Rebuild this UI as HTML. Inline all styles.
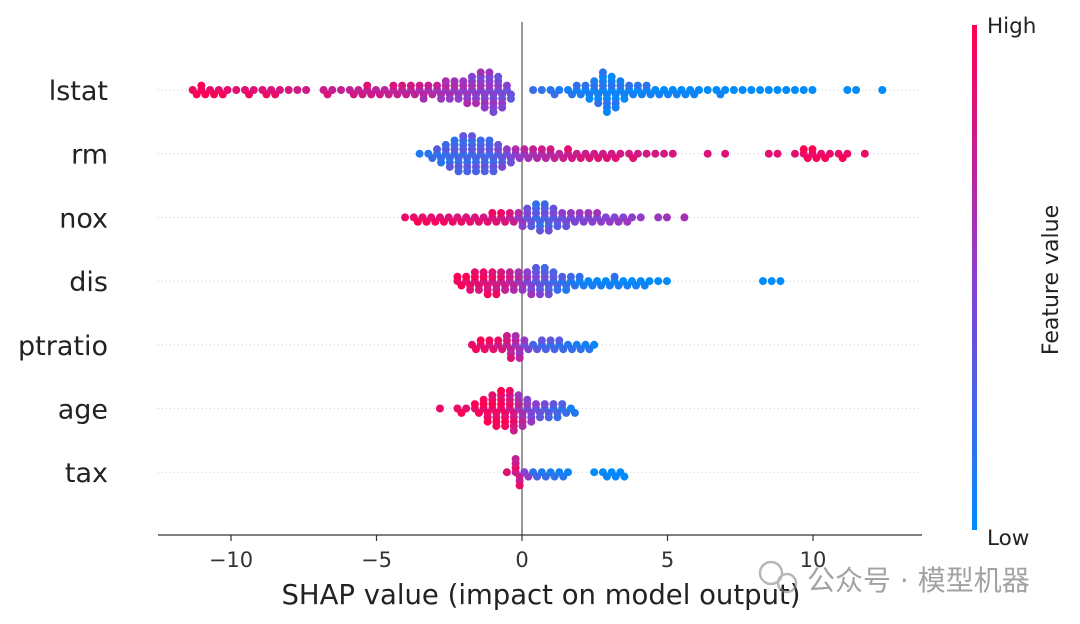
<!DOCTYPE html>
<html><head><meta charset="utf-8"><style>
html,body{margin:0;padding:0;background:#fff;}
svg{display:block;font-family:"DejaVu Sans","Liberation Sans","Noto Sans CJK SC",sans-serif;}
</style></head><body>
<svg id="chart" width="1080" height="624" viewBox="0 0 1080 624" xmlns="http://www.w3.org/2000/svg">
<defs><linearGradient id="cb" x1="0" y1="1" x2="0" y2="0">
<stop offset="0" stop-color="#008bfb"/><stop offset="0.5" stop-color="#8a3fd0"/><stop offset="1" stop-color="#ff0052"/></linearGradient></defs>
<g id="grid"></g>
<line x1="522" y1="22" x2="522" y2="535" stroke="#999" stroke-width="2"/>
<g id="dots"></g>
<g id="ylabels"></g>
<line x1="158" y1="535" x2="922" y2="535" stroke="#333" stroke-width="1.2"/>
<g id="xticks"></g>
<text x="541" y="604" font-size="27.5" text-anchor="middle" fill="#222">SHAP value (impact on model output)</text>
<rect x="972" y="25" width="5" height="505" fill="url(#cb)"/>
<text x="987" y="33" font-size="21.5" fill="#222">High</text>
<text x="987" y="545" font-size="21.5" fill="#222">Low</text>
<text x="1058" y="280" font-size="22" fill="#222" text-anchor="middle" transform="rotate(-90 1058 280)">Feature value</text>
<g opacity="0.6">
<circle cx="771" cy="573" r="11" fill="none" stroke="#888" stroke-width="2.5"/>
<circle cx="787" cy="583" r="9" fill="none" stroke="#888" stroke-width="2.5"/>
<text x="807" y="590" font-size="28" fill="#666">公众号 · 模型机器</text>
</g>
</svg>
<script>
const features = ["lstat","rm","nox","dis","ptratio","age","tax"];
const binStart = [-11.4,-3.6,-4.1,-2.3,-1.8,-2.9,-0.6];
const binStep = 0.3;
const countsLstat = [2,3,2,2,1,1,2,1, 2,2,1,1,1, 1,0,2,1,1, 2,2,3,2,2, 3,3,3,4,3, 4,5,5,6,7, 9,10,8,4, 0,0, 1,1,2,1, 2,3,4,6, 10,8,5,3, 3,3,2,2, 2,2,2,1, 1,2,1,1, 1,1,1,1, 1,1,1,1, 1,0,0,0, 1,1,0,0, 1];
const countsRm = [1,2,4,6, 8,9,9,8, 8,6,4,3, 3,3,3,3, 2,3,2,2, 2,2,2,1, 2,1,1,1, 1,1,0,0, 0,1,0,1, 0,0,0,0, 1,1,0,1, 3,3,2,1, 2,1,0,1];
const countsNox = [1,2,2,2, 2,2,2,2, 2,2,3,3, 3,4,5,7, 7,5,4,3, 3,3,3,2, 2,2,1,1, 0,1,1,0, 1];
const countsDis = [3,4,5,6, 6,5,5,5, 6,7,7,5, 4,3,3,2, 2,2,3,2, 2,2,1,1, 1,0,0,0, 0,0,0,0, 0,0,0,1, 1,1];
const countsPtratio = [2,3,3,3, 6,6,3,2, 3,3,3,2, 2,2,1];
const countsAge = [1,0,2,1, 3,6,8,9, 10,8,6,4, 4,4,3,2];
const countsTax = [1,7,2,2, 2,2,2,1, 0,0,1,2, 2,2];
const allCounts = [countsLstat,countsRm,countsNox,countsDis,countsPtratio,countsAge,countsTax];
const colorStopX = [[-11,-4,-1,0.3,2,12],[-3.5,-1,0,2,12],[-4,-0.5,0.5,1.5,5.6],[-2.3,-0.5,0.5,2,9],[-1.8,-0.5,0.5,2.7],[-2.9,-0.5,0.2,1.9],[-0.6,-0.1,0.5,3.6]];
const colorStopC = [[1,0.75,0.5,0.3,0.1,0],[0.2,0.3,0.6,0.85,1],[1,0.85,0.25,0.45,0.7],[1,0.8,0.4,0.1,0],[1,0.8,0.3,0.1],[1,0.95,0.5,0.1],[1,0.8,0.2,0]];
const xTicks = [-10,-5,0,5,10];
const xTickLabels = ["\u221210","\u22125","0","5","10"];

const NS="http://www.w3.org/2000/svg";
const xScale = v => 522 + v*29.1;
const yRow = i => 90 + i*63.7;
function mk(tag,attrs,parent){const e=document.createElementNS(NS,tag);for(const k in attrs)e.setAttribute(k,attrs[k]);parent.appendChild(e);return e;}
function interp(xs,cs,v){if(v<=xs[0])return cs[0];for(let i=1;i<xs.length;i++){if(v<=xs[i]){const t=(v-xs[i-1])/(xs[i]-xs[i-1]);return cs[i-1]+t*(cs[i]-cs[i-1]);}}return cs[cs.length-1];}
function col(c){const lo=[0,139,250],mi=[138,63,208],hi=[255,0,82];let a,b,t;if(c<0.5){a=lo;b=mi;t=c/0.5;}else{a=mi;b=hi;t=(c-0.5)/0.5;}return "rgb("+a.map((x,i)=>Math.round(x+(b[i]-x)*t)).join(",")+")";}
const grid=document.getElementById('grid'),dots=document.getElementById('dots'),yl=document.getElementById('ylabels'),xt=document.getElementById('xticks');
features.forEach((f,i)=>{
  const y=yRow(i);
  const g=mk('line',{x1:158,y1:y,x2:922,y2:y,stroke:'#ccc','stroke-width':1,'stroke-dasharray':'1 3'},grid);
  
  
  const t=mk('text',{x:108,y:y+10,'font-size':27,'text-anchor':'end',fill:'#222'},yl);
  t.textContent=f;
  
  
  const grp=mk('g',{},dots);
  
  
  allCounts[i].forEach((n,b)=>{
    const v=binStart[i]+(b+0.5)*binStep;
    for(let k=0;k<n;k++){
      const off=(k%2?1:-1)*Math.ceil(k/2)*4.4;
      const c=interp(colorStopX[i],colorStopC[i],v)+((k%3)-1)*0.08;
      const d=mk('circle',{cx:xScale(v)+((k%2)?2:-2),cy:y+off,r:4,fill:col(Math.max(0,Math.min(1,c)))},grp);
      
      
    }
  });
});
xTicks.forEach((v,i)=>{
  const l=mk('line',{x1:xScale(v),y1:535,x2:xScale(v),y2:541,stroke:'#333','stroke-width':1.2},xt);
  
  
  const t=mk('text',{x:xScale(v),y:567,'font-size':21,'text-anchor':'middle',fill:'#333'},xt);
  t.textContent=xTickLabels[i];
  
  
});
</script>
</body></html>
